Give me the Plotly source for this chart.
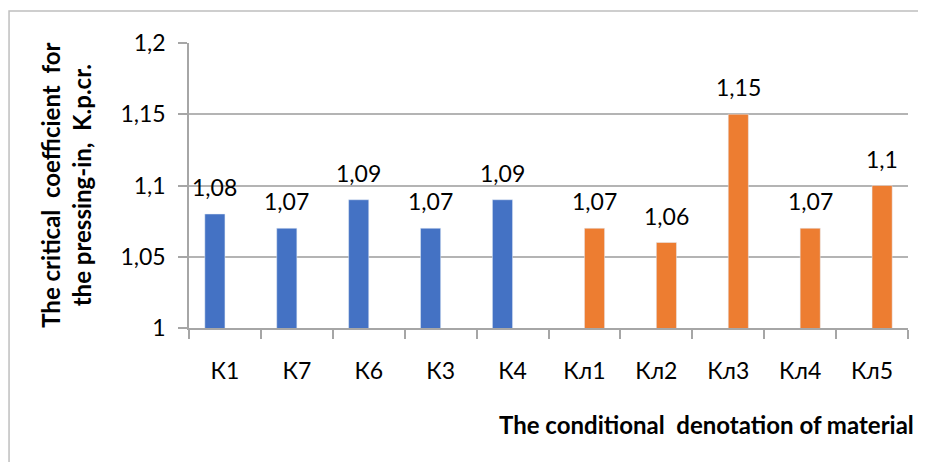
import plotly.graph_objects as go

categories = ["К1", "К7", "К6", "К3", "К4", "Кл1", "Кл2", "Кл3", "Кл4", "Кл5"]
series_k = [1.08, 1.07, 1.09, 1.07, 1.09, None, None, None, None, None]
series_kl = [None, None, None, None, None, 1.07, 1.06, 1.15, 1.07, 1.10]
y_tickvals = [1.0, 1.05, 1.1, 1.15, 1.2]
y_ticktext = ["1", "1,05", "1,1", "1,15", "1,2"]

FONT = "Lato"
TICK_SIZE = 23
TITLE_SIZE = 24

fig = go.Figure()
fig.add_trace(go.Bar(x=categories, y=series_k, marker_color="#4472C4", name="К"))
fig.add_trace(go.Bar(x=categories, y=series_kl, marker_color="#ED7D31", name="Кл"))

def fmt(v):
    s = ("%.2f" % v).rstrip("0").rstrip(".")
    return s.replace(".", ",")

anns = []
for series, shift in ((series_k, -10), (series_kl, 10)):
    for c, v in zip(categories, series):
        if v is None:
            continue
        anns.append(dict(x=c, y=v, xref="x", yref="y", text=fmt(v), showarrow=False,
                         xshift=shift, yshift=11, yanchor="bottom",
                         font=dict(family=FONT, size=TICK_SIZE, color="#000000")))

anns.append(dict(x=-0.172, y=0.50, xref="paper", yref="paper", textangle=-90,
                 text="<b>The critical  coefficient  for<br>the pressing-in,  K.p.cr.</b>",
                 showarrow=False, font=dict(family=FONT, size=TITLE_SIZE, color="#000000"),
                 xanchor="center", yanchor="middle"))
anns.append(dict(x=0.428, y=-0.34, xref="paper", yref="paper", xanchor="left", yanchor="middle",
                 text="<b>The conditional  denotation of material</b>", showarrow=False,
                 font=dict(family=FONT, size=TITLE_SIZE, color="#000000")))

fig.update_layout(
    width=918, height=454,
    margin=dict(l=181, r=18, t=35, b=134),
    paper_bgcolor="white", plot_bgcolor="white",
    barmode="group", bargap=0.44, bargroupgap=0.0,
    showlegend=False,
    annotations=anns,
    shapes=[dict(type="rect", xref="paper", yref="paper", x0=-0.2503, x1=1.4, y0=-0.8, y1=1.112,
                 line=dict(color="#BFBFBF", width=1.5), fillcolor="rgba(0,0,0,0)", layer="below")],
)
fig.update_yaxes(range=[1.0, 1.2], tickvals=y_tickvals, ticktext=y_ticktext,
                 showgrid=True, gridcolor="#B4B4B4", gridwidth=1.5,
                 showline=True, linecolor="#A6A6A6", linewidth=1.5,
                 ticks="outside", ticklen=9, tickcolor="#A6A6A6", tickwidth=1.5,
                 ticklabelstandoff=8,
                 tickfont=dict(family=FONT, size=TICK_SIZE, color="#000000"), zeroline=False)
fig.update_xaxes(showline=True, linecolor="#A6A6A6", linewidth=1.5,
                 ticks="outside", ticklen=9, tickcolor="#A6A6A6", tickwidth=1.5,
                 tickson="boundaries", ticklabelstandoff=22,
                 tickfont=dict(family=FONT, size=TICK_SIZE, color="#000000"))

fig.write_html("out.html", config={"displayModeBar": False})
